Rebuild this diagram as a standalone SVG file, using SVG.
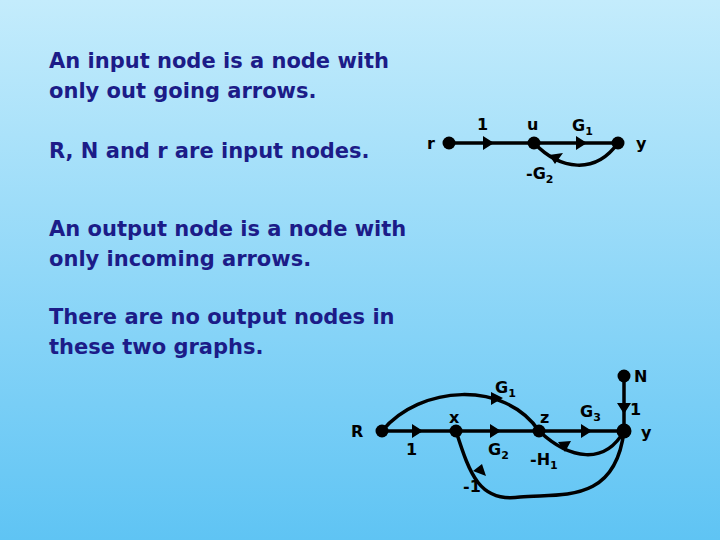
<svg xmlns="http://www.w3.org/2000/svg" width="720" height="540" viewBox="0 0 720 540">
<defs>
<linearGradient id="bg" x1="0" y1="0" x2="0" y2="1">
<stop offset="0" stop-color="#c4ecfc"/><stop offset="1" stop-color="#5fc4f4"/>
</linearGradient>
<style>
.t{font-family:"DejaVu Sans",Verdana,sans-serif;font-weight:bold;font-size:21px;fill:#1c1c88}
.l{font-family:"DejaVu Sans",Verdana,sans-serif;font-weight:bold;font-size:16px;fill:#000}
.s{font-size:11px}
.e{fill:none;stroke:#000;stroke-width:3.5}
.n{fill:#000}
</style>
</defs>
<rect width="720" height="540" fill="url(#bg)"/>
<text class="t" x="49" y="68">An input node is a node with</text>
<text class="t" x="49" y="98">only out going arrows.</text>
<text class="t" x="49" y="158">R, N and r are input nodes.</text>
<text class="t" x="49" y="236">An output node is a node with</text>
<text class="t" x="49" y="266">only incoming arrows.</text>
<text class="t" x="49" y="324">There are no output nodes in</text>
<text class="t" x="49" y="354">these two graphs.</text>
<g id="edges">
<path class="e" d="M449,143 L534,143 L618,143"/>
<path class="e" d="M534,143 C560,170 595,175 618,143"/>
<path class="e" d="M382,431 L624,431"/>
<path class="e" d="M382,431 C420,385 505,380 539,431"/>
<path class="e" d="M539,431 C570,460 605,465 624,431"/>
<path class="e" d="M624,376 L624,431"/>
<path class="e" d="M624,431 C615,505 560,493 520,497 C480,503 470,475 456,431"/>
<path d="M494,143 l-11,-7 v14 z M587,143 l-11,-7 v14 z M549,155 l14,-2 l-8,11 z" class="n"/>
<path d="M423,431 l-11,-7 v14 z M501,431 l-11,-7 v14 z M592,431 l-11,-7 v14 z M503,398 l-12,-6 v13 z M558,442 l13,-1 l-6,11 z M624,414 l-7,-11 h14 z M482,464 l-9,7 l13,5 z" class="n"/>
</g>
<g id="n-r"><circle cx="449" cy="143" r="6.5" class="n"/><text class="l" x="427" y="149">r</text></g>
<g id="n-u"><circle cx="534" cy="143" r="6.5" class="n"/><text class="l" x="527" y="130">u</text></g>
<g id="n-y1"><circle cx="618" cy="143" r="6.5" class="n"/><text class="l" x="636" y="149">y</text></g>
<text class="l" x="477" y="130">1</text>
<text class="l" x="572" y="131">G<tspan class="s" dy="4">1</tspan></text>
<text class="l" x="526" y="179">-G<tspan class="s" dy="4">2</tspan></text>
<g id="n-R"><circle cx="382" cy="431" r="6.5" class="n"/><text class="l" x="351" y="437">R</text></g>
<g id="n-x"><circle cx="456" cy="431" r="6.5" class="n"/><text class="l" x="449" y="423">x</text></g>
<g id="n-z"><circle cx="539" cy="431" r="6.5" class="n"/><text class="l" x="540" y="423">z</text></g>
<g id="n-y2"><circle cx="624" cy="431" r="7.5" class="n"/><text class="l" x="641" y="438">y</text></g>
<g id="n-N"><circle cx="624" cy="376" r="6.5" class="n"/><text class="l" x="634" y="382">N</text></g>
<text class="l" x="406" y="455">1</text>
<text class="l" x="495" y="393">G<tspan class="s" dy="4">1</tspan></text>
<text class="l" x="488" y="455">G<tspan class="s" dy="4">2</tspan></text>
<text class="l" x="580" y="417">G<tspan class="s" dy="4">3</tspan></text>
<text class="l" x="630" y="415">1</text>
<text class="l" x="530" y="465">-H<tspan class="s" dy="4">1</tspan></text>
<text class="l" x="463" y="492">-1</text>
</svg>
